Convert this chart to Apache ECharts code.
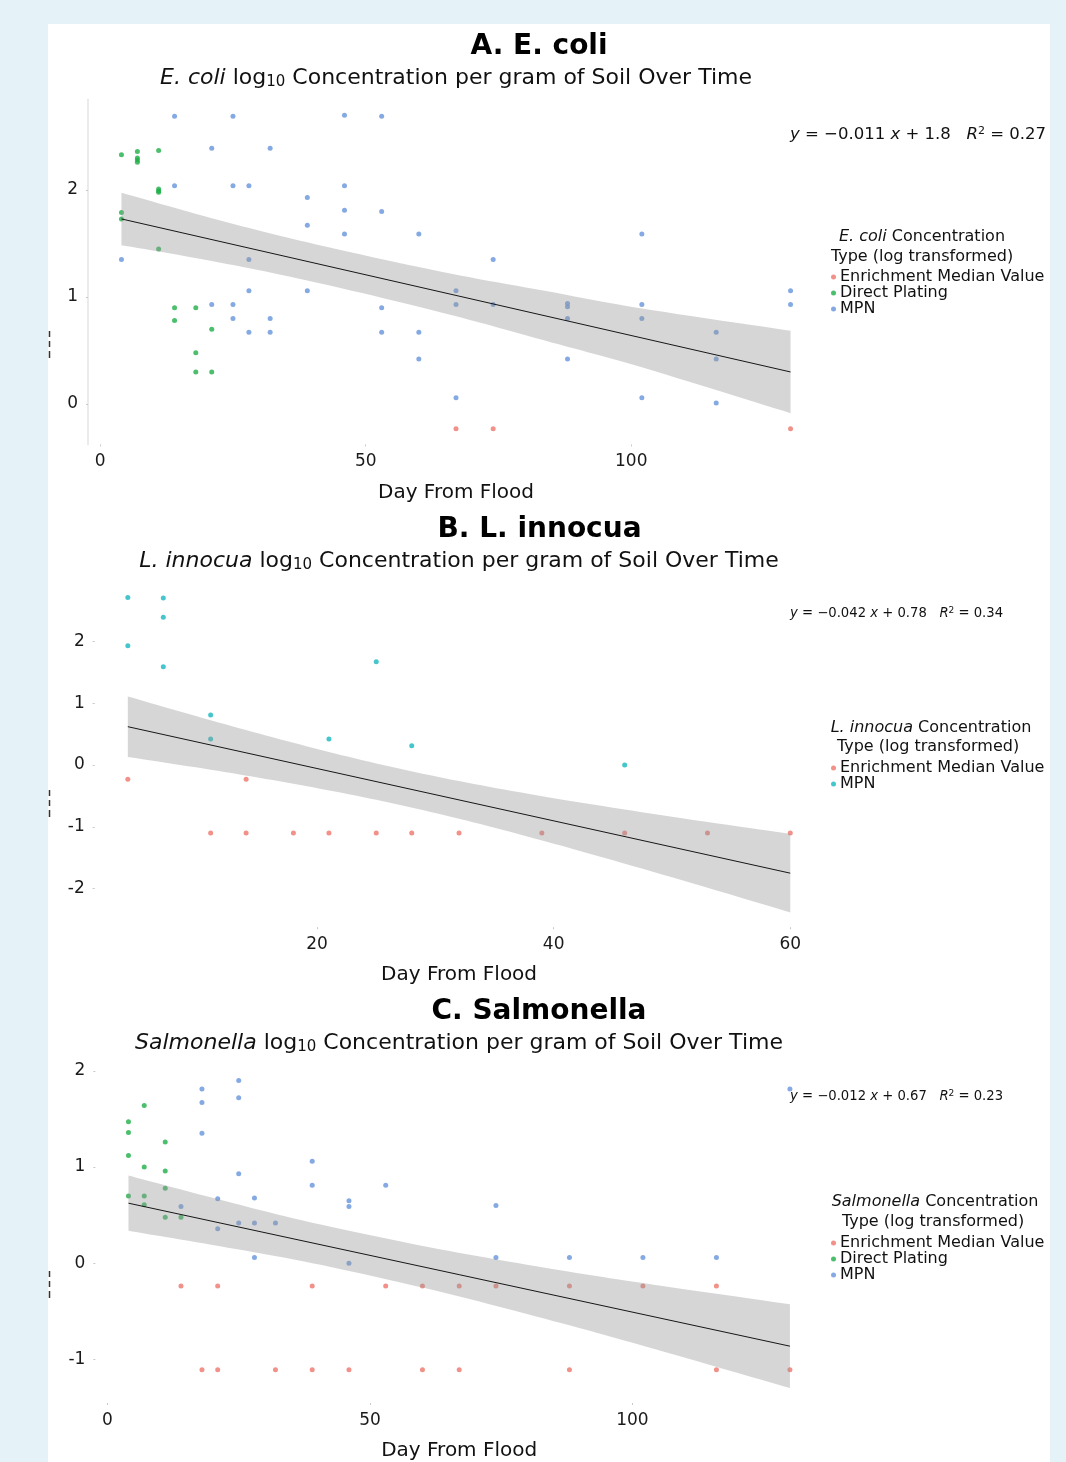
<!DOCTYPE html>
<html>
<head>
<meta charset="utf-8">
<script src="https://cdn.jsdelivr.net/npm/echarts@6/dist/echarts.min.js"></script>
<style>
html,body{margin:0;padding:0;background:#e5f2f7;}
#chart{width:1066px;height:1462px;}
</style>
</head>
<body>
<div id="chart"></div>
<script>
// ---------------- DATA ----------------
// Panel A: E. coli
const ecoliEnrichDay = [67, 74, 130];
const ecoliEnrichLog = [-0.23, -0.23, -0.23];
const ecoliDirectDay = [4, 4, 4, 7, 7, 7, 7, 11, 11, 11, 11, 11, 14, 14, 18, 18, 18, 21, 21];
const ecoliDirectLog = [2.33, 1.79, 1.73, 2.36, 2.30, 2.28, 2.26, 2.37, 2.01, 1.99, 1.98, 1.45, 0.90, 0.78, 0.90, 0.48, 0.30, 0.70, 0.30];
const ecoliMpnDay = [4, 14, 14, 21, 21, 25, 25, 25, 25, 28, 28, 28, 28, 32, 32, 32, 39, 39, 39, 46, 46, 46, 46, 53, 53, 53, 53, 60, 60, 60, 67, 67, 67, 74, 74, 88, 88, 88, 88, 102, 102, 102, 102, 116, 116, 116, 130, 130];
const ecoliMpnLog = [1.35, 2.69, 2.04, 2.39, 0.93, 2.69, 2.04, 0.93, 0.80, 2.04, 1.35, 1.06, 0.67, 2.39, 0.80, 0.67, 1.93, 1.67, 1.06, 2.70, 2.04, 1.81, 1.59, 2.69, 1.80, 0.90, 0.67, 1.59, 0.67, 0.42, 1.06, 0.93, 0.06, 1.35, 0.93, 0.94, 0.91, 0.80, 0.42, 1.59, 0.93, 0.80, 0.06, 0.67, 0.42, 0.01, 1.06, 0.93];
const ecoliFitDay = [4, 130];
const ecoliFitLog = [1.73, 0.30];
const ecoliBandDay = [4, 21, 39, 64, 85, 102, 130];
const ecoliBandLow = [1.485, 1.337, 1.155, 0.859, 0.576, 0.343, -0.085];
const ecoliBandHigh = [1.975, 1.737, 1.511, 1.239, 1.046, 0.893, 0.685];
const ecoliXTicks = [0, 50, 100];
const ecoliYTicks = [0, 1, 2];

// Panel B: L. innocua
const listEnrichDay = [4, 14, 11, 14, 18, 21, 25, 28, 32, 39, 46, 53, 60];
const listEnrichLog = [-0.23, -0.23, -1.1, -1.1, -1.1, -1.1, -1.1, -1.1, -1.1, -1.1, -1.1, -1.1, -1.1];
const listMpnDay = [4, 4, 7, 7, 7, 11, 11, 21, 25, 28, 46];
const listMpnLog = [2.71, 1.93, 2.70, 2.39, 1.59, 0.81, 0.42, 0.42, 1.67, 0.31, 0.00];
const listFitDay = [4, 60];
const listFitLog = [0.62, -1.75];
const listBandDay = [4, 11, 18, 25, 32, 40, 50, 60];
const listBandLow = [0.13, -0.076, -0.304, -0.564, -0.87, -1.272, -1.817, -2.385];
const listBandHigh = [1.11, 0.724, 0.359, 0.026, -0.26, -0.536, -0.837, -1.115];
const listXTicks = [20, 40, 60];
const listYTicks = [-2, -1, 0, 1, 2];

// Panel C: Salmonella
const salmEnrichDay = [14, 21, 39, 53, 60, 67, 74, 88, 102, 116, 18, 21, 32, 39, 46, 60, 67, 88, 116, 130];
const salmEnrichLog = [-0.235, -0.235, -0.235, -0.235, -0.235, -0.235, -0.235, -0.235, -0.235, -0.235, -1.105, -1.105, -1.105, -1.105, -1.105, -1.105, -1.105, -1.105, -1.105, -1.105];
const salmDirectDay = [4, 4, 4, 4, 7, 7, 7, 7, 11, 11, 11, 11, 14];
const salmDirectLog = [1.47, 1.36, 1.12, 0.70, 1.64, 1.00, 0.70, 0.61, 1.26, 0.96, 0.78, 0.48, 0.48];
const salmMpnDay = [14, 18, 18, 18, 21, 21, 25, 25, 25, 25, 28, 28, 28, 32, 39, 39, 46, 46, 46, 53, 74, 74, 88, 102, 116, 130];
const salmMpnLog = [0.59, 1.81, 1.67, 1.35, 0.67, 0.36, 1.90, 1.72, 0.93, 0.42, 0.68, 0.42, 0.06, 0.42, 1.06, 0.81, 0.65, 0.59, 0.00, 0.81, 0.60, 0.06, 0.06, 0.06, 0.06, 1.81];
const salmFitDay = [4, 130];
const salmFitLog = [0.625, -0.86];
const salmBandDay = [4, 20, 39, 63, 85, 102, 130];
const salmBandLow = [0.3375, 0.191, 0.0025, -0.290, -0.600, -0.855, -1.295];
const salmBandHigh = [0.9125, 0.681, 0.4225, 0.150, -0.060, -0.205, -0.425];
const salmXTicks = [0, 50, 100];
const salmYTicks = [-1, 0, 1, 2];

// ---------------- STYLE ----------------
const FF = 'DejaVu Sans';
const RED = '#ee766c';
const GREEN = '#1eaf47';
const BLUE = '#6594dc';
const TEAL = '#15b8bf';
const TXT = '#111';
const BAND = 'rgba(153,153,153,0.4)';

const zip = (a, b) => a.map((v, i) => [v, b[i]]);

function scatter(name, grid, days, vals, color) {
  return {
    name: name, type: 'scatter', xAxisIndex: grid, yAxisIndex: grid,
    symbolSize: 5, z: 2, silent: true,
    itemStyle: { color: color },
    data: zip(days, vals)
  };
}
// smooth a pixel polyline (Catmull-Rom) for drawing the band edges
function smoothPx(pts, n) {
  const out = [];
  const L = pts.length;
  for (let i = 0; i < L - 1; i++) {
    const p0 = pts[Math.max(i - 1, 0)], p1 = pts[i], p2 = pts[i + 1], p3 = pts[Math.min(i + 2, L - 1)];
    for (let k = 0; k < n; k++) {
      const t = k / n, t2 = t * t, t3 = t2 * t;
      const f = j => 0.5 * (2 * p1[j] + (-p0[j] + p2[j]) * t + (2 * p0[j] - 5 * p1[j] + 4 * p2[j] - p3[j]) * t2 + (-p0[j] + 3 * p1[j] - 3 * p2[j] + p3[j]) * t3);
      out.push([f(0), f(1)]);
    }
  }
  out.push(pts[L - 1]);
  return out;
}
function band(grid, days, low, high) {
  const rows = days.map((d, i) => [d, low[i], high[i]]);
  return {
    type: 'custom', xAxisIndex: grid, yAxisIndex: grid, z: 3, silent: true,
    data: rows, encode: { x: 0, y: [1, 2] },
    renderItem: function (params, api) {
      if (params.dataIndex !== 0) return;
      const top = smoothPx(rows.map(r => api.coord([r[0], r[2]])), 12);
      const bot = smoothPx(rows.map(r => api.coord([r[0], r[1]])), 12).reverse();
      return { type: 'polygon', shape: { points: top.concat(bot) }, style: { fill: BAND } };
    }
  };
}
function fit(grid, days, vals) {
  return {
    type: 'line', xAxisIndex: grid, yAxisIndex: grid, z: 4, silent: true,
    symbol: 'none', lineStyle: { color: '#000', width: 0.9 },
    data: zip(days, vals)
  };
}
function xAxis(grid, min, max, ticks) {
  return {
    gridIndex: grid, type: 'value', min: min, max: max,
    axisLine: { show: false, onZero: false },
    axisTick: { show: true, length: 2, customValues: ticks, lineStyle: { color: '#c8c8c8' } },
    axisLabel: { customValues: ticks, fontSize: 17, fontFamily: FF, color: '#1a1a1a', margin: 9 },
    splitLine: { show: false },
    name: 'Day From Flood', nameLocation: 'middle', nameGap: 38,
    nameTextStyle: { fontSize: 20, fontFamily: FF, color: TXT }
  };
}
function yAxis(grid, min, max, ticks, showLine) {
  return {
    gridIndex: grid, type: 'value', min: min, max: max,
    axisLine: { show: showLine, onZero: false, lineStyle: { color: '#e4e4e4', width: 1.5 } },
    axisTick: { show: true, length: 2, customValues: ticks, lineStyle: { color: '#c8c8c8' } },
    axisLabel: { customValues: ticks, fontSize: 17, fontFamily: FF, color: '#1a1a1a', margin: 10 },
    splitLine: { show: false }
  };
}
function txt(x, y, text, opts) {
  return {
    type: 'text', x: x, y: y, silent: true, z: 10,
    style: Object.assign({
      text: text, fill: TXT, fontFamily: FF, fontSize: 16,
      align: 'center', verticalAlign: 'middle'
    }, opts || {})
  };
}
function richSet(fs) {
  return {
    i: { fontStyle: 'italic', fontSize: fs, fontFamily: FF, fill: TXT },
    s: { fontSize: Math.round(fs * 0.68), fontFamily: FF, fill: TXT, padding: [Math.round(fs * 0.42), 0, 0, 0] },
    sup: { fontSize: Math.round(fs * 0.68), fontFamily: FF, fill: TXT, padding: [0, 0, Math.round(fs * 0.5), 0] }
  };
}
function legend(top, names, colors) {
  return {
    orient: 'vertical', left: 831, top: top, padding: 0,
    itemWidth: 5, itemHeight: 5, itemGap: 0, icon: 'circle',
    selectedMode: false,
    textStyle: { fontSize: 16, fontFamily: FF, color: TXT, lineHeight: 15.5, padding: [0, 0, 0, -1] },
    data: names.map((n, i) => ({ name: n, itemStyle: { color: colors[i] } }))
  };
}
function dash(x, y1, y2) {
  return { type: 'line', silent: true, shape: { x1: x, y1: y1, x2: x, y2: y2 }, style: { stroke: '#333', lineWidth: 1.5 } };
}

const chart = echarts.init(document.getElementById('chart'), null, { renderer: 'canvas' });

const option = {
  backgroundColor: '#e5f2f7',
  animation: false,
  grid: [
    { left: 88, top: 99.4, width: 736, height: 345 },
    { left: 94.7, top: 581.8, width: 728.7, height: 345.4 },
    { left: 95.4, top: 1065, width: 727.6, height: 344 }
  ],
  xAxis: [
    xAxis(0, -2.3, 136.3, ecoliXTicks),
    xAxis(1, 1.2, 62.8, listXTicks),
    xAxis(2, -2.3, 136.3, salmXTicks)
  ],
  yAxis: [
    yAxis(0, -0.377, 2.847, ecoliYTicks, true),
    yAxis(1, -2.624, 2.964, listYTicks, false),
    yAxis(2, -1.45, 2.06, salmYTicks, false)
  ],
  legend: [
    legend(269, ['Enrichment Median Value', 'Direct Plating', 'MPN'], [RED, GREEN, BLUE]),
    legend(760, ['Enrichment Median Value', 'MPN'], [RED, TEAL]),
    legend(1235, ['Enrichment Median Value', 'Direct Plating', 'MPN'], [RED, GREEN, BLUE])
  ],
  series: [
    scatter('Enrichment Median Value', 0, ecoliEnrichDay, ecoliEnrichLog, RED),
    scatter('Direct Plating', 0, ecoliDirectDay, ecoliDirectLog, GREEN),
    scatter('MPN', 0, ecoliMpnDay, ecoliMpnLog, BLUE),
    band(0, ecoliBandDay, ecoliBandLow, ecoliBandHigh),
    fit(0, ecoliFitDay, ecoliFitLog),

    scatter('Enrichment Median Value', 1, listEnrichDay, listEnrichLog, RED),
    scatter('MPN', 1, listMpnDay, listMpnLog, TEAL),
    band(1, listBandDay, listBandLow, listBandHigh),
    fit(1, listFitDay, listFitLog),

    scatter('Enrichment Median Value', 2, salmEnrichDay, salmEnrichLog, RED),
    scatter('Direct Plating', 2, salmDirectDay, salmDirectLog, GREEN),
    scatter('MPN', 2, salmMpnDay, salmMpnLog, BLUE),
    band(2, salmBandDay, salmBandLow, salmBandHigh),
    fit(2, salmFitDay, salmFitLog)
  ],
  graphic: [
    { type: 'rect', silent: true, z: -5, shape: { x: 48, y: 24, width: 1002, height: 1440 }, style: { fill: '#ffffff' } },
    // clipped axis-title fragments at the left edge
    dash(49.5, 331, 337), dash(49.5, 341, 347), dash(49.5, 351, 358),
    dash(49.5, 790, 796), dash(49.5, 800, 806), dash(49.5, 810, 817),
    dash(49.5, 1271, 1277), dash(49.5, 1281, 1287), dash(49.5, 1291, 1298),

    // Panel titles
    txt(539, 47, 'A. E. coli', { fontSize: 28, fontWeight: 'bold', fill: '#000' }),
    txt(456, 78, '{i|E. coli} log{s|10} Concentration per gram of Soil Over Time', { fontSize: 22, rich: richSet(22) }),
    txt(539.5, 530, 'B. L. innocua', { fontSize: 28, fontWeight: 'bold', fill: '#000' }),
    txt(459, 561, '{i|L. innocua} log{s|10} Concentration per gram of Soil Over Time', { fontSize: 22, rich: richSet(22) }),
    txt(539, 1012, 'C. Salmonella', { fontSize: 28, fontWeight: 'bold', fill: '#000' }),
    txt(459, 1043, '{i|Salmonella} log{s|10} Concentration per gram of Soil Over Time', { fontSize: 22, rich: richSet(22) }),

    // Regression equations
    txt(790, 135, '{i|y} = \u22120.011 {i|x} + 1.8   {i|R}{sup|2} = 0.27', { fontSize: 16.5, align: 'left', rich: richSet(16.5) }),
    txt(790, 614, '{i|y} = \u22120.042 {i|x} + 0.78   {i|R}{sup|2} = 0.34', { fontSize: 13.2, align: 'left', rich: richSet(13.2) }),
    txt(790, 1097, '{i|y} = \u22120.012 {i|x} + 0.67   {i|R}{sup|2} = 0.23', { fontSize: 13.2, align: 'left', rich: richSet(13.2) }),

    // Legend titles
    txt(922, 237, '{i|E. coli} Concentration', { fontSize: 16, rich: richSet(16) }),
    txt(922, 257, 'Type (log transformed)', { fontSize: 16 }),
    txt(931, 728, '{i|L. innocua} Concentration', { fontSize: 16, rich: richSet(16) }),
    txt(928, 747, 'Type (log transformed)', { fontSize: 16 }),
    txt(935, 1202, '{i|Salmonella} Concentration', { fontSize: 16, rich: richSet(16) }),
    txt(933, 1222, 'Type (log transformed)', { fontSize: 16 })
  ]
};
chart.setOption(option);
</script>
</body>
</html>
